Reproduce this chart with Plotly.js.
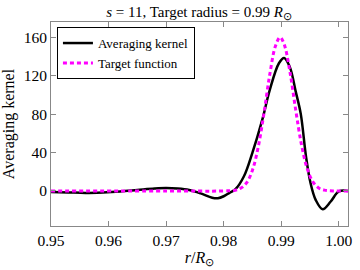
<!DOCTYPE html>
<html>
<head>
<meta charset="utf-8">
<script src="https://cdn.plot.ly/plotly-3.0.1.min.js"></script>
<style>html,body{margin:0;padding:0;background:#fff;}#plot{width:360px;height:270px;}</style>
</head>
<body>
<div id="plot"></div>
<script>
// Averaging kernel (solid black)
const kernelR = [0.950, 0.953, 0.956, 0.959, 0.962, 0.965, 0.968, 0.970, 0.972, 0.974, 0.976, 0.978, 0.979, 0.980, 0.981, 0.982, 0.9835, 0.985, 0.9867, 0.988, 0.9896, 0.9905, 0.9915, 0.9925, 0.9934, 0.9943, 0.9951, 0.9960, 0.9972, 0.9986, 1.0000, 1.0016];
const kernelV = [-1, -1.5, -2, -1.5, -0.5, 1, 2.5, 3, 2.5, 1, -2.5, -7, -7.5, -5.5, -2, 1.5, 15, 40, 74, 105, 133, 138.5, 129, 104, 80, 36, 8, -9.5, -19, -11, -0.5, 0];
// Target function (dotted magenta)
const targetR = [0.950, 0.970, 0.980, 0.982, 0.983, 0.984, 0.985, 0.986, 0.987, 0.988, 0.989, 0.9898, 0.9905, 0.9915, 0.9925, 0.9935, 0.9945, 0.9955, 0.9965, 0.9975, 0.999, 1.0016];
const targetV = [0, 0, 0, 0.8, 3, 8.6, 21.7, 45.7, 81, 121, 151, 160, 153, 124.5, 85, 48.8, 23.5, 9.5, 3.2, 0.9, 0, 0];
const xTicks = [0.95, 0.96, 0.97, 0.98, 0.99, 1.00];
const xTickText = ["0.95", "0.96", "0.97", "0.98", "0.99", "1.00"];
const yTicks = [0, 40, 80, 120, 160];
const seriesNames = ["Averaging kernel", "Target function"];

const serif = "Liberation Serif";
const data = [
  {x: kernelR, y: kernelV, name: seriesNames[0], mode: "lines",
   line: {color: "#000000", width: 2.5, shape: "spline", smoothing: 1}},
  {x: targetR, y: targetV, name: seriesNames[1], mode: "lines",
   line: {color: "#ff00ff", width: 3, dash: "4px,3px", shape: "spline", smoothing: 1}}
];
const axisCommon = {
  showgrid: false, zeroline: false, showline: true, linecolor: "#888", linewidth: 1,
  mirror: "ticks", ticks: "inside", ticklen: 5, tickcolor: "#888",
  tickfont: {family: serif, size: 15.5, color: "#000"}
};
const layout = {
  width: 360, height: 270,
  margin: {l: 51, r: 12, t: 22, b: 44},
  paper_bgcolor: "#fff", plot_bgcolor: "#fff",
  font: {family: serif},
  title: {text: "<i>s</i> = 11, Target radius = 0.99 <i>R</i><sub>⊙</sub>",
          font: {family: serif, size: 15, color: "#000"}, x: 0.553, xanchor: "center", y: 0.975, yanchor: "top"},
  xaxis: Object.assign({}, axisCommon, {range: [0.95, 1.0016], tickvals: xTicks, ticktext: xTickText,
          title: {text: "<i>r</i>/<i>R</i><sub>⊙</sub>", font: {family: serif, size: 16, color: "#000"}, standoff: 3}}),
  yaxis: Object.assign({}, axisCommon, {range: [-36.5, 176], tickvals: yTicks,
          title: {text: "Averaging kernel", font: {family: serif, size: 16, color: "#000"}, standoff: 6}}),
  legend: {x: 0.02, y: 0.975, xanchor: "left", yanchor: "top", bgcolor: "#fff",
           bordercolor: "#000", borderwidth: 1, font: {family: serif, size: 13, color: "#000"},
           tracegroupgap: 0},
  showlegend: true
};
Plotly.newPlot("plot", data, layout, {staticPlot: true, displayModeBar: false});
</script>
</body>
</html>
